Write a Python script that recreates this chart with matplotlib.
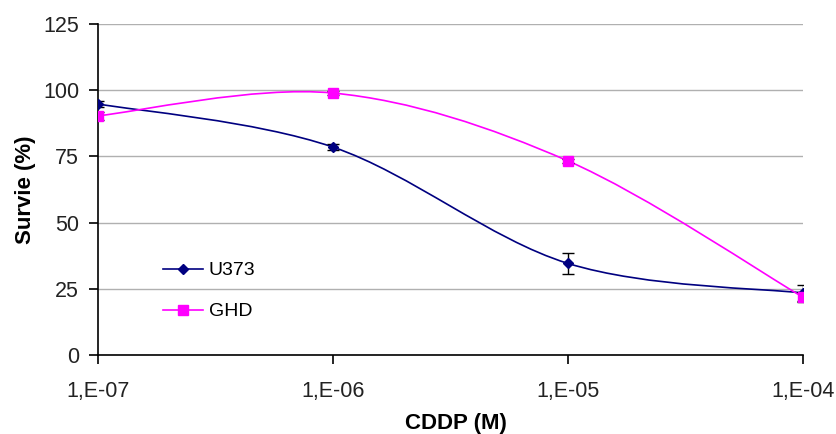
import numpy as np
import matplotlib.pyplot as plt
from matplotlib.path import Path
from matplotlib.patches import PathPatch

plt.rcParams['font.family'] = ['Liberation Sans', 'DejaVu Sans']

doses = ["1,E-07", "1,E-06", "1,E-05", "1,E-04"]
u373 = [94.8, 78.5, 34.6, 23.4]
u373_err = [1.0, 1.0, 4.0, 3.0]
ghd = [90.3, 98.9, 73.3, 21.9]
ghd_err = [1.5, 0.8, 0.8, 2.0]


def smooth_path(xs, ys):
    # excel-like smoothed line (catmull-rom converted to bezier)
    pts = np.column_stack([xs, ys]).astype(float)
    verts = [pts[0]]
    codes = [Path.MOVETO]
    n = len(pts)
    for i in range(n - 1):
        p0 = pts[i - 1] if i > 0 else pts[i]
        p1 = pts[i]
        p2 = pts[i + 1]
        p3 = pts[i + 2] if i + 2 < n else pts[i + 1]
        c1 = p1 + (p2 - p0) / 6.0
        c2 = p2 - (p3 - p1) / 6.0
        verts += [c1, c2, p2]
        codes += [Path.CURVE4] * 3
    return Path(verts, codes)


fig = plt.figure(figsize=(8.37, 4.34), dpi=100)
ax = fig.add_axes([0.117, 0.182, 0.842, 0.763])

x = np.arange(len(doses))

for vals, errs, col, mk, ms, lab in [(u373, u373_err, "#000080", "D", 5, "U373"),
                                     (ghd, ghd_err, "#FF00FF", "s", 7, "GHD")]:
    ax.add_patch(PathPatch(smooth_path(x, vals), fc="none", ec=col, lw=1.2, zorder=3))
    ax.errorbar(x, vals, yerr=errs, fmt="none", ecolor="black", elinewidth=1, capsize=4, zorder=4)
    ax.plot(x, vals, ls="none", marker=mk, ms=ms, color=col, zorder=5)
    ax.plot([], [], color=col, lw=1.2, marker=mk, ms=ms, label=lab)

ax.set_xlim(0, 3)
ax.set_ylim(0, 125)
ax.set_yticks([0, 25, 50, 75, 100, 125])
ax.set_xticks(x)
ax.set_xticklabels(doses)
ax.yaxis.grid(True, color="#b0b0b0", lw=1)
ax.set_axisbelow(True)
for s in ["top", "right"]:
    ax.spines[s].set_visible(False)
ax.spines["left"].set_linewidth(1.2)
ax.spines["bottom"].set_linewidth(1.2)
ax.tick_params(axis="both", labelsize=15.5, length=6.5, width=1.2, colors="black",
               labelcolor="#222222")
ax.tick_params(axis="x", pad=12)
ax.tick_params(axis="y", pad=7)

ax.set_ylabel("Survie (%)", fontsize=16, fontweight="bold", labelpad=5)
ax.set_xlabel("CDDP (M)", fontsize=16, fontweight="bold")
ax.xaxis.set_label_coords(0.508, -0.175)

ax.legend(loc="center left", bbox_to_anchor=(0.092, 0.193), frameon=False, fontsize=14,
          handlelength=2.06, handletextpad=0.3, labelspacing=1.21,
          borderpad=0, borderaxespad=0)

fig.savefig("out.png", dpi=100)
